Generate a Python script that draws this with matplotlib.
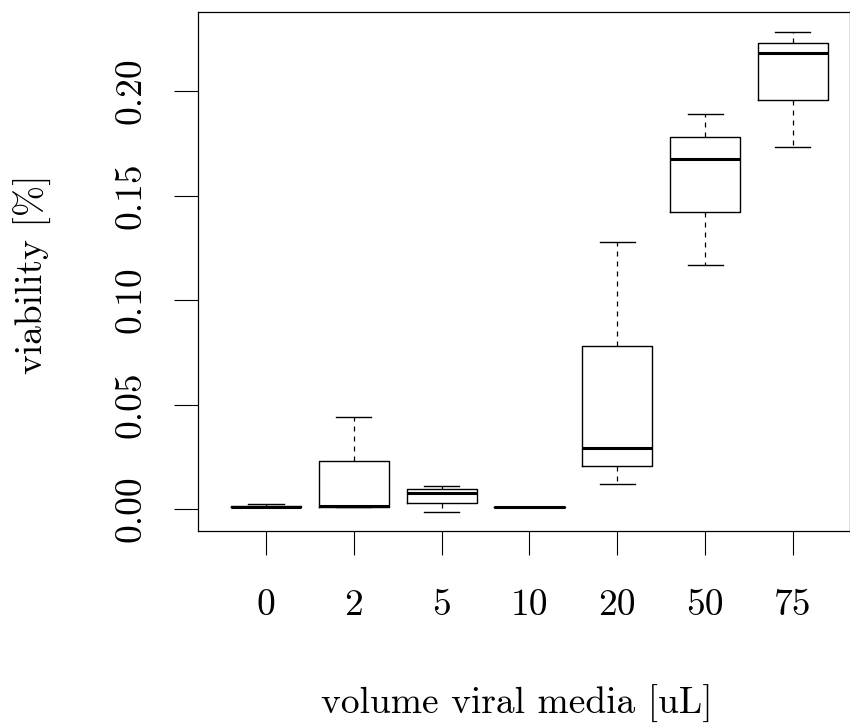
import matplotlib
matplotlib.use("Agg")
import matplotlib.pyplot as plt

plt.rcParams['font.family'] = 'cmr10'
plt.rcParams['axes.unicode_minus'] = False
plt.rcParams['mathtext.fontset'] = 'cm'

# values (R style boxplot)
volumes = ['0', '2', '5', '10', '20', '50', '75']
med    = [0.0012, 0.0013, 0.0078, 0.0010, 0.0290, 0.1673, 0.2180]
q1     = [0.0010, 0.0012, 0.0030, 0.0009, 0.0206, 0.1421, 0.1957]
q3     = [0.0014, 0.0228, 0.0094, 0.0011, 0.0780, 0.1781, 0.2231]
whislo = [0.0009, 0.0010, -0.0014, 0.0008, 0.0121, 0.1169, 0.1733]
whishi = [0.0025, 0.0440, 0.0111, 0.0012, 0.1278, 0.1891, 0.2284]

stats = []
for i, lab in enumerate(volumes):
    stats.append(dict(med=med[i], q1=q1[i], q3=q3[i], whislo=whislo[i],
                      whishi=whishi[i], fliers=[], label=lab))

fig = plt.figure(figsize=(8.5, 7.27), dpi=100)
ax = fig.add_axes([198/850, 1-531/727, 652/850, 519/727])

ax.bxp(stats, positions=range(1, 8), widths=0.8, showfliers=False,
       boxprops=dict(color='black', lw=1.0),
       medianprops=dict(color='black', lw=2.2, solid_capstyle='butt'),
       whiskerprops=dict(color='black', lw=0.9, linestyle=(0, (4, 4))),
       capprops=dict(color='black', lw=1.0),
       capwidths=0.4)

ax.set_xlim(0.225, 7.65)
ax.set_ylim(-0.0105, 0.2378)
ax.set_yticks([0.0, 0.05, 0.10, 0.15, 0.20])
ax.set_yticklabels(['0.00', '0.05', '0.10', '0.15', '0.20'], rotation=90, va='center')
ax.set_xticks(range(1, 8))
ax.set_xticklabels(volumes)

ax.tick_params(axis='both', labelsize=27, length=17.5, width=0.8, direction='out')
ax.tick_params(axis='x', pad=24)
ax.tick_params(axis='y', pad=19)
for s in ax.spines.values():
    s.set_linewidth(0.9)

fig.text(517/850, 1-704/727, 'volume viral media [uL]',
         ha='center', va='center', fontsize=27)
fig.text(33/850, 1-274/727, 'viability [%]',
         ha='center', va='center', rotation=90, fontsize=27)

fig.savefig('out.png', dpi=100)
